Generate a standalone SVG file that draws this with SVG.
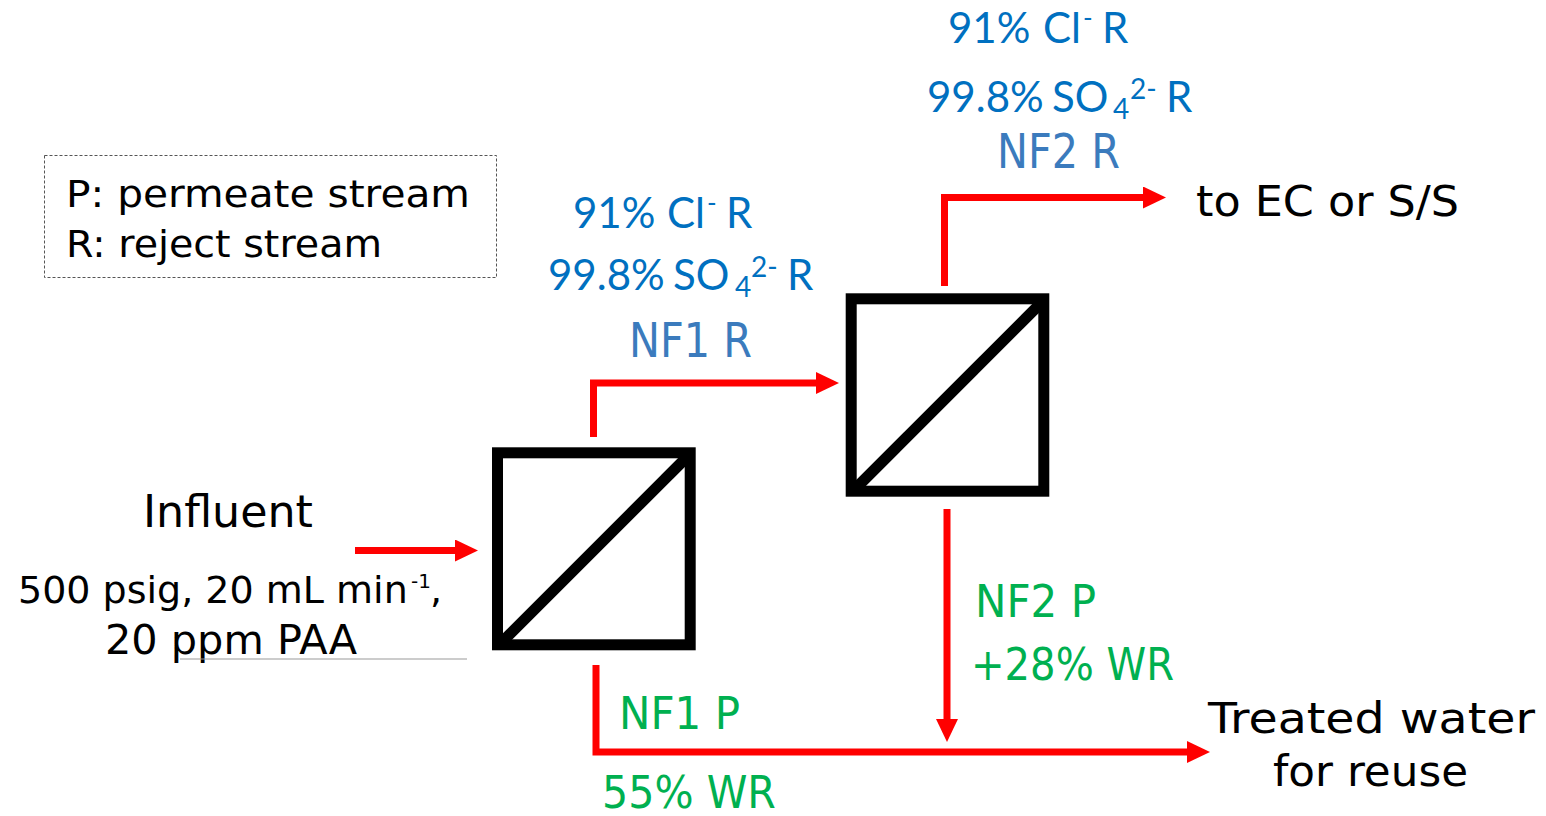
<svg xmlns="http://www.w3.org/2000/svg" width="1546" height="816" viewBox="0 0 1546 816">
<style>
.box{fill:#fff;stroke:#000;stroke-width:11}
.diag{stroke:#000;stroke-width:11}
.flow{fill:none;stroke:#ff0000;stroke-width:7;stroke-linejoin:miter}
.cg{font-family:"DejaVu Sans","Liberation Sans",sans-serif;fill:#000}
.cal{font-family:Lato,"Open Sans",sans-serif;fill:#0070c0}
.nfr{font-family:"DejaVu Sans","Liberation Sans",sans-serif;fill:#3b7bbd}
.grn{font-family:"DejaVu Sans","Liberation Sans",sans-serif;fill:#00b050}
</style>
<defs>
<marker id="ah" markerUnits="userSpaceOnUse" viewBox="0 0 23 22" markerWidth="23" markerHeight="22" refX="1" refY="11" orient="auto">
<path d="M0,0 L23,11 L0,22 Z" fill="#ff0000"/>
</marker>
</defs>
<rect width="1546" height="816" fill="#fff"/>

<g id="legend">
<rect x="44.5" y="155.5" width="452" height="122" fill="none" stroke="#555" stroke-width="1" stroke-dasharray="3,2"/>
<text class="cg" x="66" y="207" font-size="38" textLength="404" lengthAdjust="spacingAndGlyphs">P: permeate stream</text>
<text class="cg" x="66" y="257" font-size="38" textLength="316" lengthAdjust="spacingAndGlyphs">R: reject stream</text>
</g>

<g id="nf1">
<rect class="box" x="497.5" y="452.8" width="192.7" height="192" />
<line class="diag" x1="500" y1="644" x2="690" y2="454"/>
</g>

<g id="nf2">
<rect class="box" x="851.2" y="298.8" width="192.6" height="192.4"/>
<line class="diag" x1="854" y1="490" x2="1043" y2="301"/>
</g>

<g id="connectors">
<path class="flow" d="M355,550.5 H456" marker-end="url(#ah)"/>
<path class="flow" d="M593.5,437 V383 H817" marker-end="url(#ah)"/>
<path class="flow" d="M944.5,286 V197.5 H1144" marker-end="url(#ah)"/>
<path class="flow" d="M947,509 V720" marker-end="url(#ah)"/>
<path class="flow" d="M596,665 V752 H1188" marker-end="url(#ah)"/>
</g>

<g id="influent">
<text class="cg" x="143" y="527" font-size="45" textLength="170" lengthAdjust="spacingAndGlyphs">Influent</text>
<text class="cg" font-size="38"><tspan x="18" y="603">500 psig, 20 mL min</tspan><tspan x="411" y="588" font-size="20">-1</tspan><tspan x="430" y="603">,</tspan></text>
<text class="cg" x="105" y="654" font-size="40" textLength="252" lengthAdjust="spacingAndGlyphs">20 ppm PAA</text>
<line x1="180" y1="659" x2="467" y2="659" stroke="#999" stroke-width="1"/>
</g>

<g id="nf1-reject-label">
<text class="cal" font-size="42" y="228"><tspan x="573">91%</tspan><tspan x="667">Cl</tspan><tspan x="707" y="212" font-size="26">-</tspan><tspan x="726" y="228">R</tspan></text>
<text class="cal" font-size="42" y="290"><tspan x="548">99.8%</tspan><tspan x="673">SO</tspan><tspan x="735" y="297" font-size="28">4</tspan><tspan x="751" y="277" font-size="28">2-</tspan><tspan x="787" y="290">R</tspan></text>
<text class="nfr" x="629" y="357" font-size="48" textLength="123" lengthAdjust="spacingAndGlyphs">NF1 R</text>
</g>

<g id="nf2-reject-label">
<text class="cal" font-size="42" y="43"><tspan x="948">91%</tspan><tspan x="1043">Cl</tspan><tspan x="1083" y="27" font-size="26">-</tspan><tspan x="1102" y="43">R</tspan></text>
<text class="cal" font-size="42" y="112"><tspan x="927">99.8%</tspan><tspan x="1052">SO</tspan><tspan x="1113" y="119" font-size="28">4</tspan><tspan x="1130" y="99" font-size="28">2-</tspan><tspan x="1166" y="112">R</tspan></text>
<text class="nfr" x="997" y="168" font-size="48" textLength="123" lengthAdjust="spacingAndGlyphs">NF2 R</text>
</g>

<g id="ec-out">
<text class="cg" x="1196" y="216" font-size="42" textLength="263" lengthAdjust="spacingAndGlyphs">to EC or S/S</text>
</g>

<g id="nf2-permeate-label">
<text class="grn" x="975" y="617" font-size="45" textLength="121" lengthAdjust="spacingAndGlyphs">NF2 P</text>
<text class="grn" x="971" y="680" font-size="45" textLength="203" lengthAdjust="spacingAndGlyphs">+28% WR</text>
</g>

<g id="nf1-permeate-label">
<text class="grn" x="619" y="729" font-size="45" textLength="121" lengthAdjust="spacingAndGlyphs">NF1 P</text>
<text class="grn" x="602" y="808" font-size="45" textLength="174" lengthAdjust="spacingAndGlyphs">55% WR</text>
</g>

<g id="treated-out">
<text class="cg" x="1208" y="733" font-size="42" textLength="327" lengthAdjust="spacingAndGlyphs">Treated water</text>
<text class="cg" x="1273" y="786" font-size="42" textLength="195" lengthAdjust="spacingAndGlyphs">for reuse</text>
</g>
</svg>
